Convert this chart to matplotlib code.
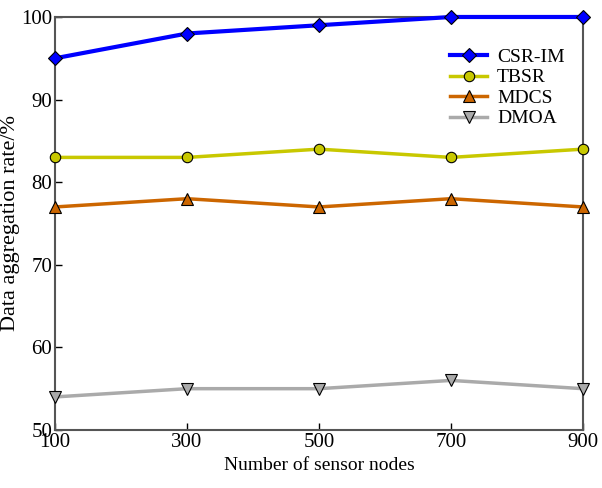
import matplotlib.pyplot as plt

# Aggregation rate vs. number of sensor nodes
nodes = [100, 300, 500, 700, 900]
csr_im = [95, 98, 99, 100, 100]
tbsr = [83, 83, 84, 83, 84]
mdcs = [77, 78, 77, 78, 77]
dmoa = [54, 55, 55, 56, 55]

plt.rcParams['font.family'] = ['Liberation Serif', 'DejaVu Serif']
plt.rcParams['font.size'] = 14

fig = plt.figure(figsize=(6.02, 4.88), dpi=100)
ax = fig.add_axes([0.0914, 0.1189, 0.877, 0.8463])

ax.plot(nodes, csr_im, color='#0000ff', lw=3, marker='D', ms=7, mfc='#0000ff', mec='black', mew=0.8, label='CSR-IM', clip_on=False, zorder=5)
ax.plot(nodes, tbsr, color='#c8c800', lw=2.5, marker='o', ms=7.5, mfc='#c8c800', mec='black', mew=0.8, label='TBSR', clip_on=False, zorder=4)
ax.plot(nodes, mdcs, color='#cc6600', lw=2.5, marker='^', ms=8, mfc='#cc6600', mec='black', mew=0.8, label='MDCS', clip_on=False, zorder=4)
ax.plot(nodes, dmoa, color='#aaaaaa', lw=2.5, marker='v', ms=8, mfc='#aaaaaa', mec='black', mew=0.8, label='DMOA', clip_on=False, zorder=4)

ax.set_xlim(100, 900)
ax.set_ylim(50, 100)
ax.set_xticks(nodes)
ax.set_yticks([50, 60, 70, 80, 90, 100])
ax.tick_params(direction='in', length=5, width=1, top=False, right=False, pad=2, labelsize=15)
for s in ax.spines.values():
    s.set_color('#555555')
    s.set_linewidth(1.5)

ax.set_xlabel('Number of sensor nodes', fontsize=14, labelpad=4)
ax.set_ylabel('Data aggregation rate/%', fontsize=16, labelpad=1)

ax.legend(loc='upper right', bbox_to_anchor=(0.995, 0.962), frameon=False, fontsize=14,
          handlelength=1.9, handletextpad=0.5, labelspacing=0.15, borderpad=0.3)

fig.savefig('out.png', dpi=100)
